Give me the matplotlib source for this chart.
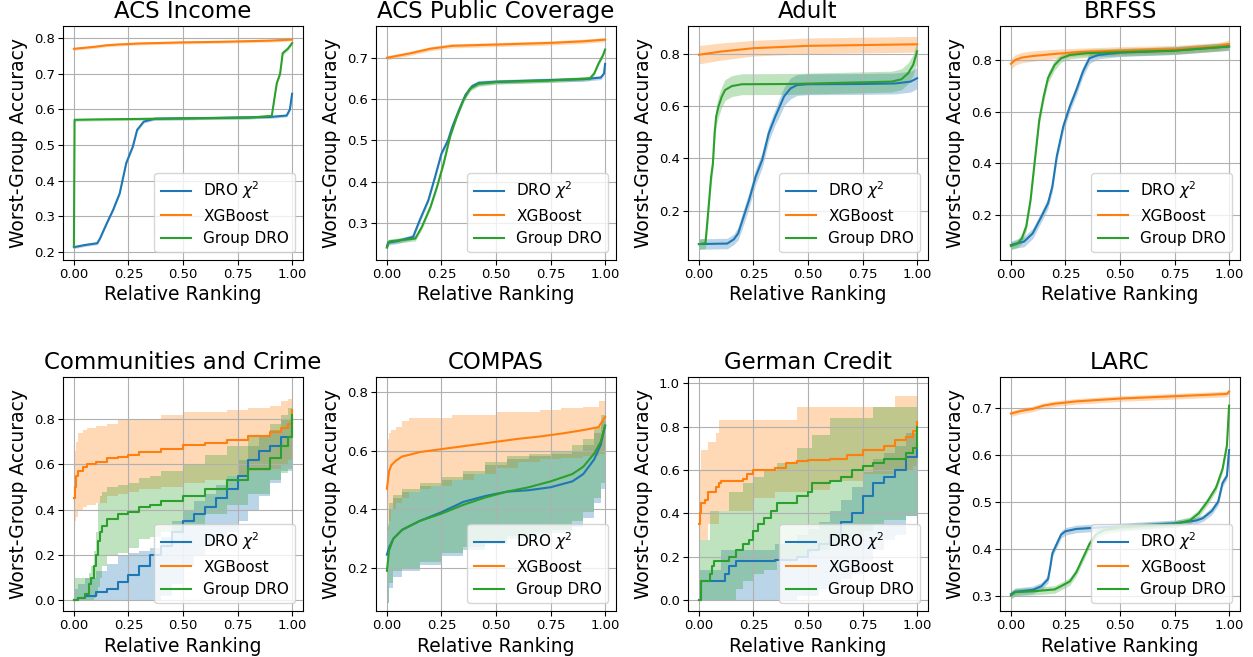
import matplotlib
matplotlib.use("Agg")
import matplotlib.pyplot as plt
from matplotlib.ticker import MultipleLocator

LABELS = ["DRO $\\chi^2$", "XGBoost", "Group DRO"]
COLORS = ["#1f77b4", "#ff7f0e", "#2ca02c"]
TITLES = ["ACS Income", "ACS Public Coverage", "Adult", "BRFSS",
          "Communities and Crime", "COMPAS", "German Credit", "LARC"]
YLIMS = [(0.178, 0.834), (0.21, 0.777), (0.011, 0.907), (0.027, 0.931),
         (-0.047, 0.986), (0.053, 0.851), (-0.049, 1.028), (0.267, 0.766)]
YSTEPS = [0.1, 0.1, 0.2, 0.2, 0.2, 0.2, 0.2, 0.1]

# ---------------- ACS Income ----------------
INC_DRO_X = [0, 0.05, 0.107, 0.12, 0.15, 0.18, 0.21, 0.24, 0.27, 0.29, 0.32, 0.37, 0.5, 0.7, 0.9, 0.975, 0.99, 1.0]
INC_DRO_Y = [0.214, 0.220, 0.225, 0.239, 0.280, 0.319, 0.365, 0.450, 0.496, 0.543, 0.566, 0.574, 0.575, 0.577, 0.579, 0.583, 0.600, 0.644]
INC_DRO_S = [0.004, 0.004, 0.004, 0.004, 0.005, 0.005, 0.005, 0.005, 0.005, 0.005, 0.004, 0.004, 0.004, 0.004, 0.004, 0.004, 0.004, 0.004]
INC_XGB_X = [0, 0.05, 0.1, 0.15, 0.2, 0.3, 0.5, 0.7, 0.9, 1.0]
INC_XGB_Y = [0.770, 0.773, 0.776, 0.780, 0.782, 0.785, 0.788, 0.790, 0.793, 0.796]
INC_XGB_S = [0.004, 0.004, 0.004, 0.004, 0.004, 0.004, 0.004, 0.004, 0.004, 0.004]
INC_GDRO_X = [0, 0.003, 0.1, 0.5, 0.8, 0.907, 0.918, 0.93, 0.945, 0.957, 0.98, 1.0]
INC_GDRO_Y = [0.216, 0.571, 0.572, 0.575, 0.577, 0.582, 0.627, 0.674, 0.700, 0.758, 0.770, 0.786]
INC_GDRO_S = [0.004, 0.004, 0.004, 0.004, 0.004, 0.004, 0.005, 0.005, 0.005, 0.005, 0.005, 0.005]

# ---------------- ACS Public Coverage ----------------
PUB_DRO_X = [0, 0.005, 0.05, 0.12, 0.15, 0.19, 0.22, 0.25, 0.28, 0.30, 0.33, 0.36, 0.39, 0.42, 0.5, 0.75, 0.9, 0.98, 0.995, 1.0]
PUB_DRO_Y = [0.242, 0.252, 0.256, 0.266, 0.306, 0.355, 0.410, 0.468, 0.500, 0.533, 0.573, 0.610, 0.631, 0.639, 0.642, 0.646, 0.648, 0.652, 0.662, 0.685]
PUB_DRO_S = [0.006, 0.006, 0.006, 0.006, 0.006, 0.006, 0.006, 0.006, 0.006, 0.006, 0.006, 0.006, 0.006, 0.006, 0.005, 0.005, 0.005, 0.005, 0.005, 0.005]
PUB_XGB_X = [0, 0.05, 0.1, 0.2, 0.3, 0.5, 0.75, 0.9, 1.0]
PUB_XGB_Y = [0.700, 0.705, 0.710, 0.722, 0.729, 0.732, 0.736, 0.740, 0.744]
PUB_XGB_S = [0.005, 0.005, 0.005, 0.005, 0.005, 0.005, 0.005, 0.005, 0.005]
PUB_GDRO_X = [0, 0.01, 0.13, 0.16, 0.20, 0.23, 0.26, 0.29, 0.32, 0.35, 0.38, 0.42, 0.5, 0.75, 0.93, 0.95, 0.97, 0.99, 1.0]
PUB_GDRO_Y = [0.240, 0.255, 0.262, 0.290, 0.339, 0.388, 0.444, 0.510, 0.557, 0.597, 0.625, 0.637, 0.641, 0.645, 0.650, 0.662, 0.686, 0.706, 0.720]
PUB_GDRO_S = [0.006, 0.006, 0.006, 0.006, 0.006, 0.006, 0.006, 0.006, 0.006, 0.006, 0.006, 0.006, 0.005, 0.005, 0.005, 0.005, 0.005, 0.005, 0.005]

# ---------------- Adult ----------------
ADU_DRO_X = [0, 0.13, 0.16, 0.18, 0.20, 0.23, 0.26, 0.29, 0.32, 0.35, 0.37, 0.39, 0.42, 0.45, 0.5, 0.75, 0.9, 0.97, 1.0]
ADU_DRO_Y = [0.072, 0.074, 0.090, 0.113, 0.164, 0.241, 0.330, 0.394, 0.496, 0.560, 0.598, 0.637, 0.668, 0.681, 0.684, 0.685, 0.687, 0.694, 0.707]
ADU_DRO_S = [0.020, 0.020, 0.020, 0.025, 0.030, 0.030, 0.030, 0.030, 0.030, 0.030, 0.035, 0.035, 0.040, 0.040, 0.040, 0.040, 0.040, 0.040, 0.040]
ADU_XGB_X = [0, 0.1, 0.25, 0.5, 0.75, 1.0]
ADU_XGB_Y = [0.797, 0.809, 0.822, 0.831, 0.834, 0.837]
ADU_XGB_S = [0.035, 0.033, 0.030, 0.030, 0.030, 0.030]
ADU_GDRO_X = [0, 0.03, 0.034, 0.044, 0.056, 0.064, 0.072, 0.079, 0.09, 0.105, 0.12, 0.151, 0.197, 0.425, 0.883, 0.928, 0.959, 0.982, 1.0]
ADU_GDRO_Y = [0.072, 0.075, 0.113, 0.210, 0.330, 0.380, 0.497, 0.560, 0.600, 0.637, 0.662, 0.677, 0.684, 0.685, 0.694, 0.703, 0.726, 0.758, 0.810]
ADU_GDRO_S = [0.020, 0.020, 0.025, 0.030, 0.030, 0.030, 0.035, 0.035, 0.040, 0.040, 0.040, 0.040, 0.040, 0.040, 0.040, 0.040, 0.040, 0.040, 0.040]

# ---------------- BRFSS ----------------
BRF_DRO_X = [0, 0.06, 0.1, 0.14, 0.17, 0.19, 0.21, 0.24, 0.27, 0.3, 0.33, 0.36, 0.4, 0.5, 0.75, 1.0]
BRF_DRO_Y = [0.085, 0.098, 0.130, 0.195, 0.246, 0.311, 0.427, 0.543, 0.620, 0.684, 0.755, 0.806, 0.819, 0.828, 0.836, 0.852]
BRF_DRO_S = [0.015, 0.020, 0.020, 0.020, 0.020, 0.020, 0.020, 0.020, 0.020, 0.020, 0.020, 0.020, 0.015, 0.015, 0.015, 0.015]
BRF_XGB_X = [0, 0.02, 0.05, 0.1, 0.2, 0.3, 0.5, 0.75, 0.95, 1.0]
BRF_XGB_Y = [0.785, 0.800, 0.809, 0.815, 0.823, 0.830, 0.836, 0.841, 0.852, 0.862]
BRF_XGB_S = [0.020, 0.020, 0.020, 0.020, 0.018, 0.015, 0.015, 0.015, 0.015, 0.015]
BRF_GDRO_X = [0, 0.03, 0.05, 0.07, 0.09, 0.11, 0.13, 0.15, 0.17, 0.2, 0.23, 0.27, 0.35, 0.5, 0.75, 1.0]
BRF_GDRO_Y = [0.081, 0.090, 0.110, 0.156, 0.259, 0.414, 0.568, 0.658, 0.730, 0.780, 0.806, 0.819, 0.826, 0.830, 0.836, 0.852]
BRF_GDRO_S = [0.015, 0.015, 0.020, 0.020, 0.020, 0.020, 0.020, 0.020, 0.020, 0.020, 0.015, 0.015, 0.015, 0.015, 0.015, 0.015]

# ---------------- Communities and Crime ----------------
CC_DRO_X = [0, 0.02, 0.05, 0.1, 0.15, 0.2, 0.25, 0.3, 0.35, 0.4, 0.45, 0.5, 0.55, 0.6, 0.65, 0.7, 0.75, 0.8, 0.85, 0.9, 0.95, 1.0]
CC_DRO_Y = [0.0, 0.01, 0.02, 0.035, 0.05, 0.08, 0.11, 0.15, 0.20, 0.24, 0.30, 0.35, 0.38, 0.41, 0.45, 0.49, 0.55, 0.62, 0.66, 0.68, 0.72, 0.80]
CC_DRO_HI = [0.05, 0.07, 0.10, 0.13, 0.16, 0.20, 0.21, 0.22, 0.23, 0.28, 0.35, 0.40, 0.44, 0.47, 0.51, 0.55, 0.62, 0.68, 0.72, 0.75, 0.80, 0.85]
CC_DRO_LO = [0.0, 0.0, 0.0, 0.0, 0.0, 0.0, 0.0, 0.0, 0.0, 0.02, 0.07, 0.15, 0.20, 0.25, 0.28, 0.30, 0.35, 0.40, 0.46, 0.52, 0.57, 0.62]
CC_XGB_X = [0, 0.003, 0.01, 0.02, 0.04, 0.06, 0.1, 0.15, 0.2, 0.25, 0.3, 0.4, 0.5, 0.6, 0.7, 0.8, 0.9, 0.95, 0.98, 1.0]
CC_XGB_Y = [0.45, 0.50, 0.55, 0.57, 0.59, 0.60, 0.61, 0.63, 0.635, 0.64, 0.655, 0.67, 0.685, 0.695, 0.71, 0.725, 0.745, 0.76, 0.78, 0.84]
CC_XGB_HI = [0.62, 0.66, 0.70, 0.74, 0.75, 0.76, 0.77, 0.78, 0.80, 0.80, 0.80, 0.82, 0.83, 0.83, 0.84, 0.85, 0.86, 0.88, 0.89, 0.90]
CC_XGB_LO = [0.33, 0.35, 0.37, 0.40, 0.41, 0.42, 0.43, 0.46, 0.47, 0.48, 0.49, 0.50, 0.52, 0.53, 0.55, 0.57, 0.58, 0.60, 0.62, 0.70]
CC_GDRO_X = [0, 0.02, 0.05, 0.07, 0.08, 0.09, 0.1, 0.11, 0.12, 0.13, 0.15, 0.2, 0.25, 0.3, 0.35, 0.4, 0.5, 0.6, 0.7, 0.8, 0.9, 0.95, 0.98, 1.0]
CC_GDRO_Y = [0.0, 0.01, 0.03, 0.07, 0.10, 0.15, 0.20, 0.26, 0.30, 0.33, 0.36, 0.38, 0.39, 0.41, 0.42, 0.44, 0.46, 0.49, 0.53, 0.58, 0.63, 0.68, 0.72, 0.82]
CC_GDRO_HI = [0.10, 0.10, 0.10, 0.12, 0.15, 0.22, 0.30, 0.43, 0.46, 0.48, 0.50, 0.51, 0.52, 0.54, 0.55, 0.57, 0.60, 0.64, 0.68, 0.73, 0.78, 0.82, 0.85, 0.90]
CC_GDRO_LO = [0.0, 0.0, 0.0, 0.0, 0.0, 0.01, 0.02, 0.06, 0.10, 0.15, 0.20, 0.21, 0.23, 0.27, 0.28, 0.30, 0.33, 0.38, 0.42, 0.47, 0.53, 0.56, 0.58, 0.70]

# ---------------- COMPAS ----------------
CP_DRO_X = [0, 0.01, 0.03, 0.07, 0.15, 0.25, 0.35, 0.45, 0.55, 0.65, 0.75, 0.85, 0.9, 0.95, 0.98, 1.0]
CP_DRO_Y = [0.245, 0.27, 0.30, 0.33, 0.36, 0.39, 0.425, 0.445, 0.46, 0.465, 0.475, 0.495, 0.52, 0.57, 0.62, 0.685]
CP_DRO_HI = [0.34, 0.40, 0.44, 0.46, 0.48, 0.50, 0.52, 0.55, 0.57, 0.58, 0.59, 0.60, 0.62, 0.66, 0.70, 0.77]
CP_DRO_LO = [0.08, 0.13, 0.17, 0.19, 0.21, 0.24, 0.26, 0.28, 0.30, 0.31, 0.32, 0.34, 0.37, 0.42, 0.47, 0.53]
CP_XGB_X = [0, 0.005, 0.01, 0.02, 0.04, 0.07, 0.1, 0.15, 0.2, 0.3, 0.4, 0.5, 0.6, 0.7, 0.8, 0.9, 0.97, 1.0]
CP_XGB_Y = [0.47, 0.50, 0.53, 0.55, 0.565, 0.58, 0.585, 0.595, 0.60, 0.61, 0.62, 0.63, 0.64, 0.648, 0.658, 0.67, 0.68, 0.715]
CP_XGB_HI = [0.63, 0.64, 0.66, 0.67, 0.68, 0.70, 0.71, 0.71, 0.71, 0.72, 0.72, 0.73, 0.73, 0.74, 0.745, 0.75, 0.77, 0.82]
CP_XGB_LO = [0.30, 0.33, 0.36, 0.40, 0.42, 0.44, 0.46, 0.47, 0.48, 0.50, 0.52, 0.54, 0.56, 0.57, 0.575, 0.58, 0.59, 0.62]
CP_GDRO_X = [0, 0.01, 0.03, 0.07, 0.15, 0.25, 0.35, 0.45, 0.55, 0.65, 0.75, 0.85, 0.9, 0.95, 0.98, 1.0]
CP_GDRO_Y = [0.19, 0.26, 0.30, 0.33, 0.36, 0.385, 0.415, 0.44, 0.46, 0.475, 0.495, 0.52, 0.545, 0.59, 0.63, 0.685]
CP_GDRO_HI = [0.35, 0.42, 0.45, 0.47, 0.49, 0.51, 0.53, 0.56, 0.58, 0.59, 0.60, 0.62, 0.64, 0.68, 0.72, 0.80]
CP_GDRO_LO = [0.08, 0.15, 0.19, 0.20, 0.22, 0.25, 0.27, 0.29, 0.31, 0.32, 0.33, 0.36, 0.39, 0.44, 0.49, 0.55]

# ---------------- German Credit ----------------
GC_DRO_X = [0, 0.01, 0.1, 0.12, 0.14, 0.17, 0.35, 0.45, 0.5, 0.55, 0.6, 0.65, 0.7, 0.75, 0.8, 0.85, 0.9, 0.95, 1.0]
GC_DRO_Y = [0.0, 0.09, 0.09, 0.12, 0.16, 0.18, 0.185, 0.20, 0.23, 0.26, 0.30, 0.36, 0.40, 0.48, 0.54, 0.57, 0.60, 0.66, 0.72]
GC_DRO_HI = [0.14, 0.14, 0.23, 0.23, 0.23, 0.23, 0.26, 0.30, 0.33, 0.36, 0.41, 0.46, 0.52, 0.59, 0.65, 0.68, 0.71, 0.77, 0.84]
GC_DRO_LO = [0.0, 0.0, 0.0, 0.0, 0.0, 0.0, 0.0, 0.02, 0.02, 0.05, 0.08, 0.10, 0.12, 0.18, 0.23, 0.28, 0.30, 0.39, 0.45]
GC_XGB_X = [0, 0.005, 0.01, 0.03, 0.04, 0.08, 0.09, 0.1, 0.2, 0.22, 0.25, 0.35, 0.4, 0.45, 0.5, 0.6, 0.68, 0.75, 0.85, 0.9, 0.95, 0.98, 1.0]
GC_XGB_Y = [0.35, 0.40, 0.45, 0.46, 0.50, 0.52, 0.54, 0.55, 0.56, 0.58, 0.60, 0.61, 0.63, 0.64, 0.645, 0.65, 0.67, 0.69, 0.71, 0.74, 0.75, 0.78, 0.82]
GC_XGB_HI = [0.55, 0.60, 0.69, 0.69, 0.73, 0.77, 0.83, 0.83, 0.83, 0.83, 0.83, 0.83, 0.83, 0.89, 0.89, 0.89, 0.89, 0.89, 0.89, 0.94, 0.94, 0.94, 0.94]
GC_XGB_LO = [0.28, 0.28, 0.28, 0.28, 0.35, 0.35, 0.41, 0.41, 0.41, 0.41, 0.47, 0.50, 0.50, 0.50, 0.51, 0.55, 0.55, 0.58, 0.58, 0.60, 0.60, 0.62, 0.65]
GC_GDRO_X = [0, 0.01, 0.05, 0.06, 0.07, 0.14, 0.17, 0.2, 0.23, 0.25, 0.27, 0.3, 0.33, 0.36, 0.45, 0.5, 0.52, 0.6, 0.65, 0.7, 0.75, 0.8, 0.85, 0.95, 0.98, 1.0]
GC_GDRO_Y = [0.0, 0.09, 0.12, 0.16, 0.18, 0.20, 0.23, 0.26, 0.28, 0.32, 0.35, 0.38, 0.41, 0.45, 0.48, 0.50, 0.54, 0.55, 0.57, 0.60, 0.62, 0.63, 0.65, 0.68, 0.70, 0.80]
GC_GDRO_HI = [0.28, 0.28, 0.41, 0.41, 0.41, 0.50, 0.50, 0.54, 0.54, 0.57, 0.57, 0.60, 0.60, 0.63, 0.70, 0.70, 0.76, 0.84, 0.84, 0.84, 0.84, 0.89, 0.89, 0.89, 0.89, 0.89]
GC_GDRO_LO = [0.0, 0.0, 0.0, 0.0, 0.0, 0.0, 0.05, 0.09, 0.09, 0.12, 0.12, 0.14, 0.14, 0.18, 0.20, 0.22, 0.23, 0.25, 0.28, 0.30, 0.32, 0.35, 0.37, 0.39, 0.39, 0.45]

# ---------------- LARC ----------------
LA_DRO_X = [0, 0.02, 0.1, 0.14, 0.17, 0.18, 0.19, 0.21, 0.23, 0.25, 0.3, 0.4, 0.5, 0.6, 0.75, 0.85, 0.88, 0.92, 0.95, 0.97, 0.99, 1.0]
LA_DRO_Y = [0.303, 0.308, 0.312, 0.320, 0.335, 0.360, 0.390, 0.410, 0.430, 0.437, 0.442, 0.445, 0.447, 0.450, 0.454, 0.460, 0.465, 0.480, 0.500, 0.540, 0.555, 0.610]
LA_DRO_S = [0.008, 0.008, 0.008, 0.008, 0.008, 0.008, 0.008, 0.008, 0.008, 0.008, 0.008, 0.008, 0.007, 0.007, 0.007, 0.007, 0.007, 0.008, 0.008, 0.008, 0.008, 0.008]
LA_XGB_X = [0, 0.05, 0.1, 0.15, 0.2, 0.3, 0.4, 0.5, 0.75, 0.9, 0.99, 1.0]
LA_XGB_Y = [0.688, 0.694, 0.698, 0.705, 0.709, 0.714, 0.717, 0.720, 0.725, 0.728, 0.730, 0.735]
LA_XGB_S = [0.006, 0.006, 0.006, 0.006, 0.006, 0.006, 0.006, 0.006, 0.006, 0.006, 0.006, 0.006]
LA_GDRO_X = [0, 0.02, 0.1, 0.2, 0.23, 0.27, 0.3, 0.33, 0.36, 0.39, 0.43, 0.5, 0.6, 0.75, 0.82, 0.86, 0.9, 0.94, 0.97, 0.99, 1.0]
LA_GDRO_Y = [0.300, 0.307, 0.309, 0.313, 0.320, 0.330, 0.350, 0.380, 0.410, 0.430, 0.440, 0.445, 0.448, 0.452, 0.460, 0.475, 0.500, 0.530, 0.570, 0.620, 0.705]
LA_GDRO_S = [0.008, 0.008, 0.008, 0.008, 0.008, 0.008, 0.008, 0.008, 0.008, 0.008, 0.008, 0.008, 0.007, 0.007, 0.008, 0.008, 0.008, 0.008, 0.008, 0.008, 0.008]


def sym(x, y, s):
    return (x, y, [a - b for a, b in zip(y, s)], [a + b for a, b in zip(y, s)])


PANELS = [
    ([sym(INC_DRO_X, INC_DRO_Y, INC_DRO_S), sym(INC_XGB_X, INC_XGB_Y, INC_XGB_S), sym(INC_GDRO_X, INC_GDRO_Y, INC_GDRO_S)], False, False),
    ([sym(PUB_DRO_X, PUB_DRO_Y, PUB_DRO_S), sym(PUB_XGB_X, PUB_XGB_Y, PUB_XGB_S), sym(PUB_GDRO_X, PUB_GDRO_Y, PUB_GDRO_S)], False, False),
    ([sym(ADU_DRO_X, ADU_DRO_Y, ADU_DRO_S), sym(ADU_XGB_X, ADU_XGB_Y, ADU_XGB_S), sym(ADU_GDRO_X, ADU_GDRO_Y, ADU_GDRO_S)], False, False),
    ([sym(BRF_DRO_X, BRF_DRO_Y, BRF_DRO_S), sym(BRF_XGB_X, BRF_XGB_Y, BRF_XGB_S), sym(BRF_GDRO_X, BRF_GDRO_Y, BRF_GDRO_S)], False, False),
    ([(CC_DRO_X, CC_DRO_Y, CC_DRO_LO, CC_DRO_HI), (CC_XGB_X, CC_XGB_Y, CC_XGB_LO, CC_XGB_HI), (CC_GDRO_X, CC_GDRO_Y, CC_GDRO_LO, CC_GDRO_HI)], True, True),
    ([(CP_DRO_X, CP_DRO_Y, CP_DRO_LO, CP_DRO_HI), (CP_XGB_X, CP_XGB_Y, CP_XGB_LO, CP_XGB_HI), (CP_GDRO_X, CP_GDRO_Y, CP_GDRO_LO, CP_GDRO_HI)], False, True),
    ([(GC_DRO_X, GC_DRO_Y, GC_DRO_LO, GC_DRO_HI), (GC_XGB_X, GC_XGB_Y, GC_XGB_LO, GC_XGB_HI), (GC_GDRO_X, GC_GDRO_Y, GC_GDRO_LO, GC_GDRO_HI)], True, True),
    ([sym(LA_DRO_X, LA_DRO_Y, LA_DRO_S), sym(LA_XGB_X, LA_XGB_Y, LA_XGB_S), sym(LA_GDRO_X, LA_GDRO_Y, LA_GDRO_S)], False, False),
]

W, H = 1253, 657
fig = plt.figure(figsize=(W / 100, H / 100), dpi=100)
lefts = [63, 376, 688, 1000]
tops = [26, 377]
aw, ah = 240, 234

for i, (series, step_line, step_band) in enumerate(PANELS):
    r, c = divmod(i, 4)
    ax = fig.add_axes([lefts[c] / W, 1 - (tops[r] + ah) / H, aw / W, ah / H])
    for (x, y, lo, hi), col, lab in zip(series, COLORS, LABELS):
        ax.fill_between(x, lo, hi, color=col, alpha=0.3, linewidth=0,
                        step="post" if step_band else None)
        ax.plot(x, y, color=col, lw=1.5, label=lab,
                drawstyle="steps-post" if step_line else "default")
    ax.set_xlim(-0.05, 1.05)
    ax.set_ylim(*YLIMS[i])
    ax.yaxis.set_major_locator(MultipleLocator(YSTEPS[i]))
    ax.set_xticks([0, 0.25, 0.5, 0.75, 1.0])
    ax.set_xticklabels(["0.00", "0.25", "0.50", "0.75", "1.00"])
    ax.grid(True)
    ax.tick_params(labelsize=9.5, pad=2.5)
    ax.set_title(TITLES[i], fontsize=16.5)
    ax.set_xlabel("Relative Ranking", fontsize=13.5, labelpad=3)
    ax.set_ylabel("Worst-Group Accuracy", fontsize=13.5)
    ax.legend(loc="lower right", fontsize=11)

fig.savefig("out.png", dpi=100)
